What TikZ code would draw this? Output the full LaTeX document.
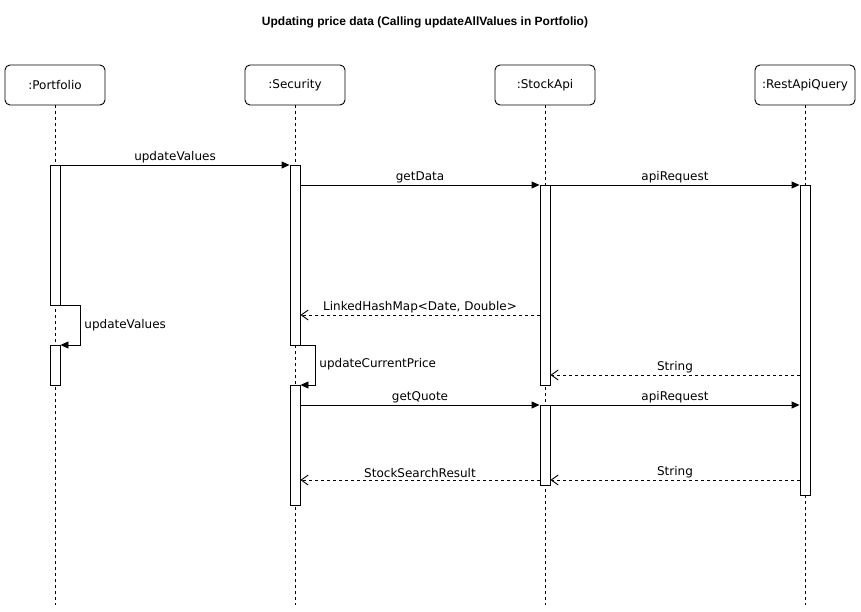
\documentclass[tikz,border=0pt]{standalone}
\usepackage{fontspec}
\setmainfont{DejaVu Sans}
\newfontfamily\titlefont{Liberation Sans}
\usetikzlibrary{arrows.meta,calc}
\begin{document}
\begin{tikzpicture}[x=1pt,y=-1pt, line width=0.9pt,
  txt/.style={font=\fontsize{12}{14}\selectfont},
  obj/.style={draw, rounded corners=5pt, minimum width=100pt, minimum height=40pt, inner sep=0pt, txt},
  life/.style={dash pattern=on 3pt off 3pt},
  actbar/.style={draw, fill=white, minimum width=10pt, anchor=north, inner sep=0pt},
  msg/.style={-{Triangle[length=8pt,width=7pt]}},
  ret/.style={dash pattern=on 3pt off 3pt, -{Straight Barb[length=7pt,width=10pt]}},
  lbl/.style={above, inner sep=2pt, txt},
  slbl/.style={anchor=west, inner sep=2pt, txt}
]
\useasboundingbox (0,0) rectangle (861,612);
\node[font=\titlefont\fontsize{12}{14}\selectfont\bfseries] (title) at (425,22) {Updating price data (Calling updateAllValues in Portfolio)};

\node[obj] (P) at (55,85) {:Portfolio};
\node[obj] (S) at (295,85) {:Security};
\node[obj] (K) at (545,85) {:StockApi};
\node[obj] (R) at (805,85) {:RestApiQuery};

\coordinate (Pe) at (55,605);
\coordinate (Se) at (295,605);
\coordinate (Ke) at (545,605);
\coordinate (Re) at (805,605);
\draw[life] (P) -- (Pe);
\draw[life] (S) -- (Se);
\draw[life] (K) -- (Ke);
\draw[life] (R) -- (Re);

\node[actbar, minimum height=140pt] (p1) at (55,165) {};
\node[actbar, minimum height=40pt] (p2) at (55,345) {};
\node[actbar, minimum height=180pt] (s1) at (295,165) {};
\node[actbar, minimum height=120pt] (s2) at (295,385) {};
\node[actbar, minimum height=200pt] (k1) at (545,185) {};
\node[actbar, minimum height=80pt] (k2) at (545,405) {};
\node[actbar, minimum height=310pt] (r1) at (805,185) {};

\coordinate (y315) at (0,315);
\coordinate (y375) at (0,375);
\coordinate (y480) at (0,480);

\draw[msg] (p1.north east) -- node[lbl] {updateValues} (s1.north west);
\draw[msg] (s1.east |- k1.north) -- node[lbl] {getData} (k1.north west);
\draw[msg] (k1.north east) -- node[lbl] {apiRequest} (r1.north west);
\draw[ret] (k1.west |- y315) -- node[lbl] {LinkedHashMap<Date, Double>} (s1.east |- y315);
\draw[msg] (p1.south east) -- ++(20,0) |- (p2.north east);
\node[slbl] (lp) at (82,325) {updateValues};
\draw[ret] (r1.west |- y375) -- node[lbl] {String} (k1.east |- y375);
\draw[msg] (s1.south east) -- ++(15,0) |- (s2.north east);
\node[slbl] (ls) at (317,364) {updateCurrentPrice};
\draw[msg] (s2.east |- k2.north) -- node[lbl] {getQuote} (k2.north west);
\draw[msg] (k2.north east) -- node[lbl] {apiRequest} (r1.west |- k2.north);
\draw[ret] (r1.west |- y480) -- node[lbl] {String} (k2.east |- y480);
\draw[ret] (k2.west |- y480) -- node[lbl] {StockSearchResult} (s2.east |- y480);
\end{tikzpicture}
\end{document}
